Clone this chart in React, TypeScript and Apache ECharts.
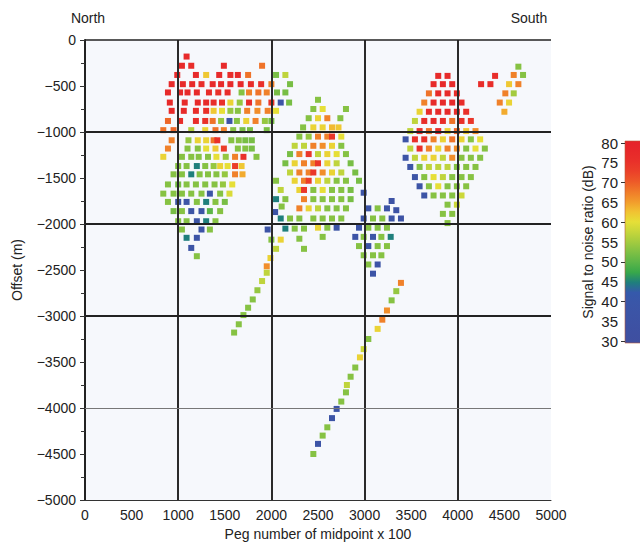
import React, { useEffect, useRef } from "react";
import * as echarts from "echarts";

// ---- data: [peg number of midpoint x100, offset (m), SNR (dB)] ----
const northCluster: number[][] = [
  [1090, -180, 77],
  [1040, -280, 77], [1140, -280, 76], [1490, -280, 77], [1900, -280, 68],
  [990, -380, 77], [1190, -380, 77], [1300, -380, 62], [1440, -380, 77], [1560, -380, 76], [1640, -380, 77], [1750, -380, 68], [2050, -380, 52], [2150, -380, 57],
  [930, -480, 77], [1050, -480, 77], [1150, -480, 77], [1250, -480, 76], [1370, -480, 77], [1460, -480, 77], [1560, -480, 77], [1670, -480, 77], [1780, -480, 76], [1890, -480, 75], [2000, -480, 67], [2200, -480, 52],
  [890, -570, 77], [1020, -570, 77], [1100, -570, 77], [1200, -570, 77], [1330, -570, 76], [1430, -570, 75], [1530, -570, 76], [1680, -570, 53], [1760, -570, 67], [1860, -570, 68], [1950, -570, 67], [2060, -570, 52], [2150, -570, 52],
  [910, -680, 77], [1070, -680, 77], [1210, -680, 77], [1300, -680, 77], [1380, -680, 76], [1470, -680, 75], [1560, -680, 61], [1660, -680, 54], [1760, -680, 76], [1860, -680, 68], [2000, -680, 74], [2100, -680, 38], [2190, -680, 52],
  [930, -770, 77], [1060, -770, 77], [1190, -770, 76], [1300, -770, 75], [1380, -770, 62], [1470, -770, 60], [1560, -770, 54], [1640, -770, 53], [1740, -770, 67], [1850, -770, 66], [1960, -770, 67], [2050, -770, 60],
  [890, -880, 69], [1020, -880, 76], [1190, -880, 76], [1290, -880, 75], [1370, -880, 68], [1460, -880, 54], [1550, -880, 38], [1630, -880, 53], [1730, -880, 61], [1830, -880, 67], [1930, -880, 54], [2000, -880, 52],
  [840, -980, 68], [950, -980, 69], [1140, -980, 56], [1290, -980, 61], [1400, -980, 68], [1490, -980, 67], [1590, -980, 53], [1690, -980, 52], [1770, -980, 52], [1950, -980, 52],
  [930, -1090, 67], [1110, -1090, 54], [1210, -1090, 61], [1300, -1090, 61], [1380, -1090, 68], [1420, -1090, 75], [1570, -1090, 53], [1650, -1090, 53], [1720, -1090, 52], [1790, -1090, 52],
  [890, -1180, 67], [1100, -1180, 53], [1210, -1180, 53], [1300, -1180, 60], [1400, -1180, 62], [1490, -1180, 73], [1640, -1180, 53], [1720, -1180, 53], [1790, -1180, 52],
  [840, -1270, 61], [1040, -1270, 53], [1140, -1270, 53], [1220, -1270, 53], [1320, -1270, 53], [1410, -1270, 60], [1510, -1270, 54], [1610, -1270, 67], [1700, -1270, 75], [1840, -1270, 53],
  [1000, -1370, 53], [1090, -1370, 53], [1200, -1370, 45], [1290, -1370, 53], [1380, -1370, 54], [1450, -1370, 61], [1530, -1370, 60], [1610, -1370, 73], [1680, -1370, 62],
  [950, -1460, 53], [1040, -1460, 53], [1140, -1460, 45], [1230, -1460, 53], [1320, -1460, 53], [1410, -1460, 53], [1500, -1460, 54], [1610, -1460, 67], [1690, -1460, 64],
  [890, -1570, 53], [1000, -1570, 52], [1090, -1570, 53], [1190, -1570, 53], [1290, -1570, 53], [1390, -1570, 53], [1480, -1570, 54], [1580, -1570, 60],
  [840, -1670, 53], [950, -1670, 53], [1040, -1670, 53], [1140, -1670, 53], [1250, -1670, 53], [1340, -1670, 38], [1450, -1670, 53], [1550, -1670, 59],
  [890, -1760, 53], [1000, -1760, 38], [1090, -1760, 38], [1200, -1760, 53], [1300, -1760, 45], [1400, -1760, 53], [1500, -1760, 52],
  [950, -1860, 52], [1040, -1860, 53], [1140, -1860, 38], [1250, -1860, 38], [1340, -1860, 50], [1450, -1860, 53],
  [1000, -1970, 53], [1090, -1970, 53], [1200, -1970, 38], [1300, -1970, 45], [1400, -1970, 53],
  [1040, -2060, 53], [1250, -2060, 38], [1340, -2060, 53],
  [1090, -2150, 45], [1200, -2150, 38],
  [1140, -2260, 38],
  [1200, -2350, 53],
];

const centralCluster: number[][] = [
  [2500, -650, 53],
  [2450, -750, 53], [2550, -750, 60], [2800, -750, 53],
  [2400, -850, 53], [2500, -850, 61], [2600, -850, 67], [2740, -850, 53],
  [2340, -950, 53], [2450, -950, 61], [2550, -950, 61], [2650, -950, 63], [2720, -950, 62],
  [2300, -1050, 53], [2400, -1050, 54], [2500, -1050, 67], [2600, -1050, 67], [2650, -1050, 74], [2750, -1050, 60],
  [2250, -1150, 57], [2350, -1150, 57], [2450, -1150, 67], [2550, -1150, 66], [2650, -1150, 61], [2750, -1150, 53],
  [2200, -1240, 52], [2300, -1240, 67], [2400, -1240, 74], [2500, -1240, 57], [2600, -1240, 61], [2700, -1240, 60], [2800, -1240, 53],
  [2150, -1340, 52], [2250, -1340, 61], [2350, -1340, 67], [2450, -1340, 67], [2500, -1340, 74], [2600, -1340, 61], [2700, -1340, 57], [2850, -1340, 52],
  [2200, -1440, 57], [2300, -1440, 67], [2400, -1440, 67], [2450, -1440, 74], [2550, -1440, 66], [2650, -1440, 61], [2750, -1440, 57], [2900, -1440, 52],
  [2050, -1530, 53], [2250, -1530, 61], [2350, -1530, 67], [2400, -1530, 73], [2500, -1530, 61], [2600, -1530, 57], [2700, -1530, 53], [2800, -1530, 53], [2940, -1530, 52],
  [2100, -1630, 57], [2300, -1630, 61], [2350, -1630, 74], [2450, -1630, 53], [2550, -1630, 60], [2650, -1630, 53], [2750, -1630, 53], [2850, -1630, 52],
  [2050, -1730, 45], [2150, -1730, 53], [2350, -1730, 67], [2450, -1730, 53], [2550, -1730, 53], [2650, -1730, 53], [2750, -1730, 53], [2850, -1730, 52],
  [2110, -1810, 53], [2300, -1830, 67], [2400, -1830, 61], [2500, -1830, 57], [2600, -1830, 53], [2700, -1830, 53], [2800, -1830, 53],
  [2040, -1870, 38],
  [2100, -1940, 45], [2200, -1940, 53], [2300, -1940, 53], [2450, -1940, 53], [2550, -1940, 53], [2650, -1940, 53], [2750, -1940, 53],
  [2150, -2050, 45], [2250, -2050, 53], [2350, -2050, 53], [2500, -2040, 61], [2600, -2040, 53], [2700, -2040, 38],
  [2300, -2160, 53], [2550, -2140, 53],
  [2350, -2270, 53],
];

const westLine: number[][] = [
  [1960, -2060, 38], [2000, -2170, 53], [2100, -2170, 61], [2050, -2270, 57], [1990, -2370, 61],
  [1950, -2460, 66], [1950, -2530, 57], [1900, -2620, 57], [1850, -2720, 54], [1800, -2820, 53],
  [1750, -2910, 53], [1700, -2990, 53], [1650, -3090, 53], [1600, -3180, 53],
];

const smallCluster: number[][] = [
  [2990, -1660, 38],
  [3040, -1830, 38], [3140, -1830, 53], [3240, -1830, 37], [3290, -1750, 36], [3340, -1850, 36],
  [2990, -1940, 38], [3090, -1940, 53], [3190, -1940, 53], [3290, -1940, 38], [3390, -1940, 36],
  [2940, -2040, 38], [3040, -2040, 53], [3140, -2040, 53], [3240, -2040, 53],
  [2900, -2140, 38], [2990, -2140, 53], [3090, -2140, 38], [3180, -2140, 53], [3280, -2140, 45],
  [2940, -2240, 53], [3040, -2240, 38], [3140, -2240, 53], [3240, -2240, 53],
  [2990, -2340, 53], [3090, -2340, 53], [3180, -2340, 53],
  [3040, -2440, 53], [3140, -2440, 38],
  [3090, -2540, 38],
];

const eastLine: number[][] = [
  [3390, -2640, 67], [3340, -2730, 54], [3290, -2830, 53], [3240, -2940, 66], [3190, -3040, 67],
  [3140, -3140, 61], [3040, -3250, 53], [2990, -3360, 58], [2950, -3450, 61], [2900, -3560, 53],
  [2850, -3660, 53], [2810, -3750, 57], [2800, -3830, 53], [2750, -3930, 53], [2700, -4010, 38],
  [2650, -4110, 38], [2600, -4210, 53], [2550, -4300, 53], [2500, -4390, 38], [2450, -4500, 53],
];

const southCluster: number[][] = [
  [3790, -390, 77], [3890, -390, 77],
  [3740, -480, 77], [3840, -480, 77], [3940, -480, 77],
  [3690, -580, 68], [3790, -580, 77], [3890, -580, 77], [3990, -580, 76],
  [3640, -680, 67], [3740, -680, 77], [3840, -680, 77], [3940, -680, 77], [4040, -680, 76],
  [3590, -780, 61], [3690, -780, 76], [3790, -780, 77], [3890, -780, 77], [3990, -780, 76], [4090, -780, 75],
  [3540, -880, 57], [3640, -880, 76], [3740, -880, 77], [3840, -880, 76], [3940, -880, 68], [4040, -880, 75], [4140, -880, 74],
  [3490, -990, 57], [3590, -990, 75], [3690, -990, 68], [3790, -990, 76], [3890, -990, 61], [3990, -990, 69], [4090, -990, 62], [4190, -990, 66],
  [3440, -1080, 38], [3540, -1080, 75], [3640, -1080, 75], [3740, -1080, 67], [3840, -1080, 61], [3940, -1080, 68], [4040, -1080, 61], [4140, -1080, 53], [4240, -1080, 60],
  [3490, -1180, 57], [3590, -1180, 75], [3690, -1180, 67], [3790, -1180, 61], [3890, -1180, 67], [3990, -1180, 66], [4090, -1180, 53], [4190, -1180, 60], [4290, -1180, 53],
  [3440, -1280, 38], [3540, -1280, 57], [3640, -1280, 61], [3740, -1280, 61], [3840, -1280, 57], [3940, -1280, 66], [4040, -1280, 53], [4140, -1280, 53], [4240, -1280, 53],
  [3490, -1380, 38], [3590, -1380, 53], [3690, -1380, 57], [3790, -1380, 57], [3890, -1380, 57], [3990, -1380, 53], [4090, -1380, 53], [4190, -1380, 53],
  [3540, -1490, 38], [3640, -1490, 53], [3740, -1490, 60], [3840, -1490, 57], [3940, -1490, 53], [4040, -1490, 53], [4140, -1490, 53],
  [3590, -1590, 38], [3690, -1590, 53], [3790, -1590, 60], [3890, -1590, 53], [3990, -1590, 53], [4090, -1590, 53],
  [3640, -1690, 38], [3740, -1690, 53], [3840, -1690, 53], [3940, -1690, 53], [4040, -1690, 58],
  [3890, -1790, 53], [3990, -1790, 58],
  [3840, -1890, 53], [3940, -1890, 53],
  [3890, -1990, 53],
];

const southEastGroup: number[][] = [
  [4650, -290, 53], [4600, -380, 67], [4700, -380, 53], [4400, -390, 76], [4250, -480, 76], [4350, -480, 76],
  [4550, -480, 62], [4650, -480, 67], [4510, -580, 67], [4600, -580, 55], [4450, -680, 67], [4550, -680, 61],
  [4500, -780, 64],
];

const xGridValues = [1000, 2000, 3000, 4000];
const yGridValues = [0, -1000, -2000, -3000];
const yFaintGridValues = [-4000];
const colorbarTicks = [30, 40, 50, 60, 70, 80];

// colour map from 30 dB to 80 dB in 2.5 dB steps
const CMAP = [
  "#3f4fa0", "#3e50a2", "#3d52a4", "#3c54a6", "#3a56a8", "#3559ab",
  "#1f7f7c", "#38a84a", "#5cb548", "#7fc044", "#a3cb3f", "#c6d63b",
  "#e6df37", "#f1c232", "#f29b2c", "#f07a29", "#ed5928", "#eb4029",
  "#e9302a", "#e7282a", "#e5232a",
];

const FONT = "'Liberation Sans', Arial, Helvetica, sans-serif";

export default function App() {
  const ref = useRef<HTMLDivElement>(null);

  useEffect(() => {
    if (!ref.current) return;
    const chart = echarts.init(ref.current, undefined, { renderer: "svg" });

    const allPoints = [
      ...northCluster, ...centralCluster, ...westLine, ...smallCluster,
      ...eastLine, ...southCluster, ...southEastGroup,
    ];

    const gradientStops = CMAP.map((c, i) => ({ offset: 1 - i / (CMAP.length - 1), color: c })).reverse();

    const dark = { color: "#222", width: 2, type: "solid" as const };
    const markData: any[] = [
      ...xGridValues.map((v) => ({ xAxis: v, lineStyle: { ...dark, color: "#2a2a2a" } })),
      ...yGridValues.map((v) => ({ yAxis: v, lineStyle: { ...dark, width: v === 0 ? 1.5 : 2 } })),
      ...yFaintGridValues.map((v) => ({ yAxis: v, lineStyle: { color: "#777", width: 1, type: "solid" } })),
    ];

    const minus = (v: number) => String(v).replace("-", "\u2212");
    const plain = (v: number) => String(v);

    chart.setOption({
      animation: false,
      textStyle: { fontFamily: FONT },
      grid: [
        { left: 85, top: 40, width: 466, height: 465, show: true, backgroundColor: "#f6f8fc", borderWidth: 0 },
        { left: 625, top: 143, width: 20, height: 198, show: false },
      ],
      xAxis: [
        {
          gridIndex: 0, type: "value", min: 0, max: 5000, interval: 500,
          axisLine: { show: true, onZero: false, lineStyle: { color: "#333", width: 1 } },
          axisTick: { show: false },
          axisLabel: { fontSize: 14, color: "#222", margin: 8, fontFamily: FONT, formatter: plain },
          splitLine: { show: false },
          name: "Peg number of midpoint x 100", nameLocation: "middle", nameGap: 27,
          nameTextStyle: { fontSize: 14, color: "#222", fontFamily: FONT },
        },
        { gridIndex: 1, type: "value", min: 0, max: 1, show: false },
      ],
      yAxis: [
        {
          gridIndex: 0, type: "value", min: -5000, max: 0, interval: 500,
          axisLine: { show: true, onZero: false, lineStyle: { color: "#222", width: 2 } },
          axisTick: { show: true, length: 5, lineStyle: { color: "#333" } },
          minorTick: { show: true, splitNumber: 2, length: 4, lineStyle: { color: "#333" } },
          axisLabel: { fontSize: 14, color: "#222", margin: 9, fontFamily: FONT, formatter: minus },
          splitLine: { show: false },
          name: "Offset (m)", nameLocation: "middle", nameGap: 61, nameRotate: 90,
          nameTextStyle: { fontSize: 14, color: "#222", fontFamily: FONT },
        },
        {
          gridIndex: 1, type: "value", min: 30, max: 80, interval: 5, position: "left",
          axisLine: { show: false },
          axisTick: { show: true, length: 4, inside: false, customValues: colorbarTicks, lineStyle: { color: "#333" } },
          axisLabel: { fontSize: 15, color: "#222", margin: 7, fontFamily: FONT },
          splitLine: { show: false },
          name: "Signal to noise ratio (dB)", nameLocation: "middle", nameGap: 30, nameRotate: 90,
          nameTextStyle: { fontSize: 14, color: "#222", fontFamily: FONT },
        },
      ],
      visualMap: {
        type: "continuous", show: false, min: 30, max: 80, dimension: 2, seriesIndex: 1,
        inRange: { color: CMAP },
      },
      graphic: [
        {
          type: "rect", x: 625, y: 141, z: 0,
          shape: { width: 20, height: 202 },
          style: {
            fill: { type: "linear", x: 0, y: 0, x2: 0, y2: 1, colorStops: gradientStops },
            stroke: "#b85a3a", lineWidth: 0.6,
          },
        },
        { type: "text", x: 88, y: 18, style: { text: "North", fontSize: 14, fill: "#222", fontFamily: FONT, textAlign: "center", textVerticalAlign: "middle" } },
        { type: "text", x: 529, y: 18, style: { text: "South", fontSize: 14, fill: "#222", fontFamily: FONT, textAlign: "center", textVerticalAlign: "middle" } },
      ],
      series: [
        {
          type: "scatter", xAxisIndex: 0, yAxisIndex: 0, data: [], silent: true,
          markLine: { silent: true, symbol: "none", label: { show: false }, data: markData },
        },
        {
          type: "scatter", xAxisIndex: 0, yAxisIndex: 0,
          symbol: "rect", symbolSize: 6,
          data: allPoints,
          itemStyle: { opacity: 1 },
        },
      ],
    });

    return () => chart.dispose();
  }, []);

  return <div ref={ref} style={{ width: 640, height: 546, position: "absolute", left: 0, top: 0 }} />;
}
